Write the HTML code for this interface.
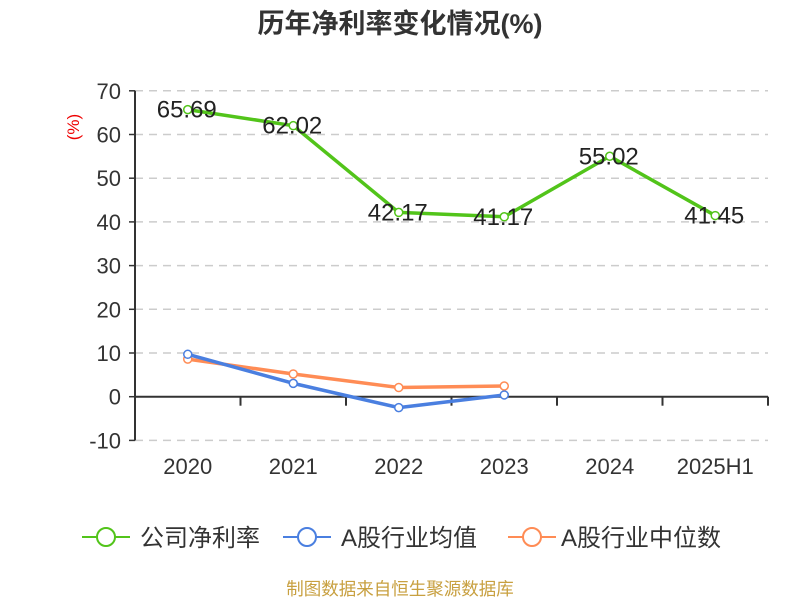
<!DOCTYPE html>
<html><head><meta charset="utf-8"><style>
body{margin:0;background:#fff;}
svg{display:block;font-family:"Liberation Sans","Noto Sans CJK SC",sans-serif;}
</style></head><body>
<svg id="chart" width="800" height="600">
<text x="400" y="33" text-anchor="middle" font-size="27" font-weight="bold" fill="#333">历年净利率变化情况(%)</text>
<text x="79" y="127" font-size="17" fill="#e00" transform="rotate(-90 79 127)" text-anchor="middle">(%)</text>
<g id="grid"></g><g id="axes"></g><g id="series"></g>
<g font-size="24" fill="#333">
<g><line x1="82" y1="537" x2="130" y2="537" stroke="#52c41a" stroke-width="2"/><circle cx="106" cy="537" r="9" fill="#fff" stroke="#52c41a" stroke-width="2"/><text x="140" y="546">公司净利率</text></g>
<g><line x1="283" y1="537" x2="331" y2="537" stroke="#4a7fe0" stroke-width="2"/><circle cx="307" cy="537" r="9" fill="#fff" stroke="#4a7fe0" stroke-width="2"/><text x="341" y="546">A股行业均值</text></g>
<g><line x1="508" y1="537" x2="556" y2="537" stroke="#ff8c55" stroke-width="2"/><circle cx="532" cy="537" r="9" fill="#fff" stroke="#ff8c55" stroke-width="2"/><text x="561" y="546">A股行业中位数</text></g>
</g>
<text x="400" y="595" text-anchor="middle" font-size="17.5" fill="#c8a040">制图数据来自恒生聚源数据库</text>
</svg>
<script>
const categories=["2020","2021","2022","2023","2024","2025H1"];
const companyValues=[65.69,62.02,42.17,41.17,55.02,41.45];
const avgValues=[9.7,3.05,-2.5,0.4];
const medianValues=[8.6,5.2,2.1,2.45];
const yTicks=[-10,0,10,20,30,40,50,60,70];
const NS="http://www.w3.org/2000/svg";
const L=135,R=768,band=(R-L)/categories.length;
const xPos=i=>L+band*(i+0.5);
const yPos=v=>396.7-v*4.37;
function mk(t,a,p){const e=document.createElementNS(NS,t);for(const k in a)e.setAttribute(k,a[k]);p.appendChild(e);return e;}
const grid=document.getElementById('grid'),axes=document.getElementById('axes'),ser=document.getElementById('series');
yTicks.forEach(v=>{
 if(v!==0){const g=mk('line',{x1:L,x2:R,y1:yPos(v),y2:yPos(v),stroke:'#ccc','stroke-dasharray':'8,6','stroke-width':1.5},grid);
 
 }
 const t=mk('text',{x:L-14,y:yPos(v)+8,'text-anchor':'end','font-size':22,fill:'#333'},axes);t.textContent=v;
 
 
 const tk=mk('line',{x1:L-6,x2:L,y1:yPos(v),y2:yPos(v),stroke:'#333','stroke-width':1.5},axes);
 
 
});
const ya=mk('line',{x1:L,x2:L,y1:yPos(70),y2:yPos(-10),stroke:'#333','stroke-width':2},axes);


const xa=mk('line',{x1:L,x2:R,y1:yPos(0),y2:yPos(0),stroke:'#333','stroke-width':2},axes);


categories.forEach((c,i)=>{
 const tk=mk('line',{x1:L+band*(i+1),x2:L+band*(i+1),y1:yPos(0),y2:yPos(0)+9,stroke:'#333','stroke-width':2},axes);
 
 
 const t=mk('text',{x:xPos(i),y:474,'text-anchor':'middle','font-size':22,fill:'#333'},axes);t.textContent=c;
 
 
});
function series(vals,color,name,labels){
 const pts=vals.map((v,i)=>xPos(i)+','+yPos(v)).join(' ');
 const pl=mk('polyline',{points:pts,fill:'none',stroke:color,'stroke-width':3.5,'stroke-linejoin':'round'},ser);
 
 
 vals.forEach((v,i)=>{
  const c=mk('circle',{cx:xPos(i),cy:yPos(v),r:4,fill:'#fff',stroke:color,'stroke-width':1.5},ser);
  
  
  if(labels){const t=mk('text',{x:xPos(i)-1,y:yPos(v)+8,'text-anchor':'middle','font-size':24,fill:'#222'},ser);t.textContent=v.toFixed(2);
  
  }
 });
}
series(medianValues,'#ff8c55','industry-median',false);
series(avgValues,'#4a7fe0','industry-avg',false);
series(companyValues,'#52c41a','company',true);
</script>
</body></html>
